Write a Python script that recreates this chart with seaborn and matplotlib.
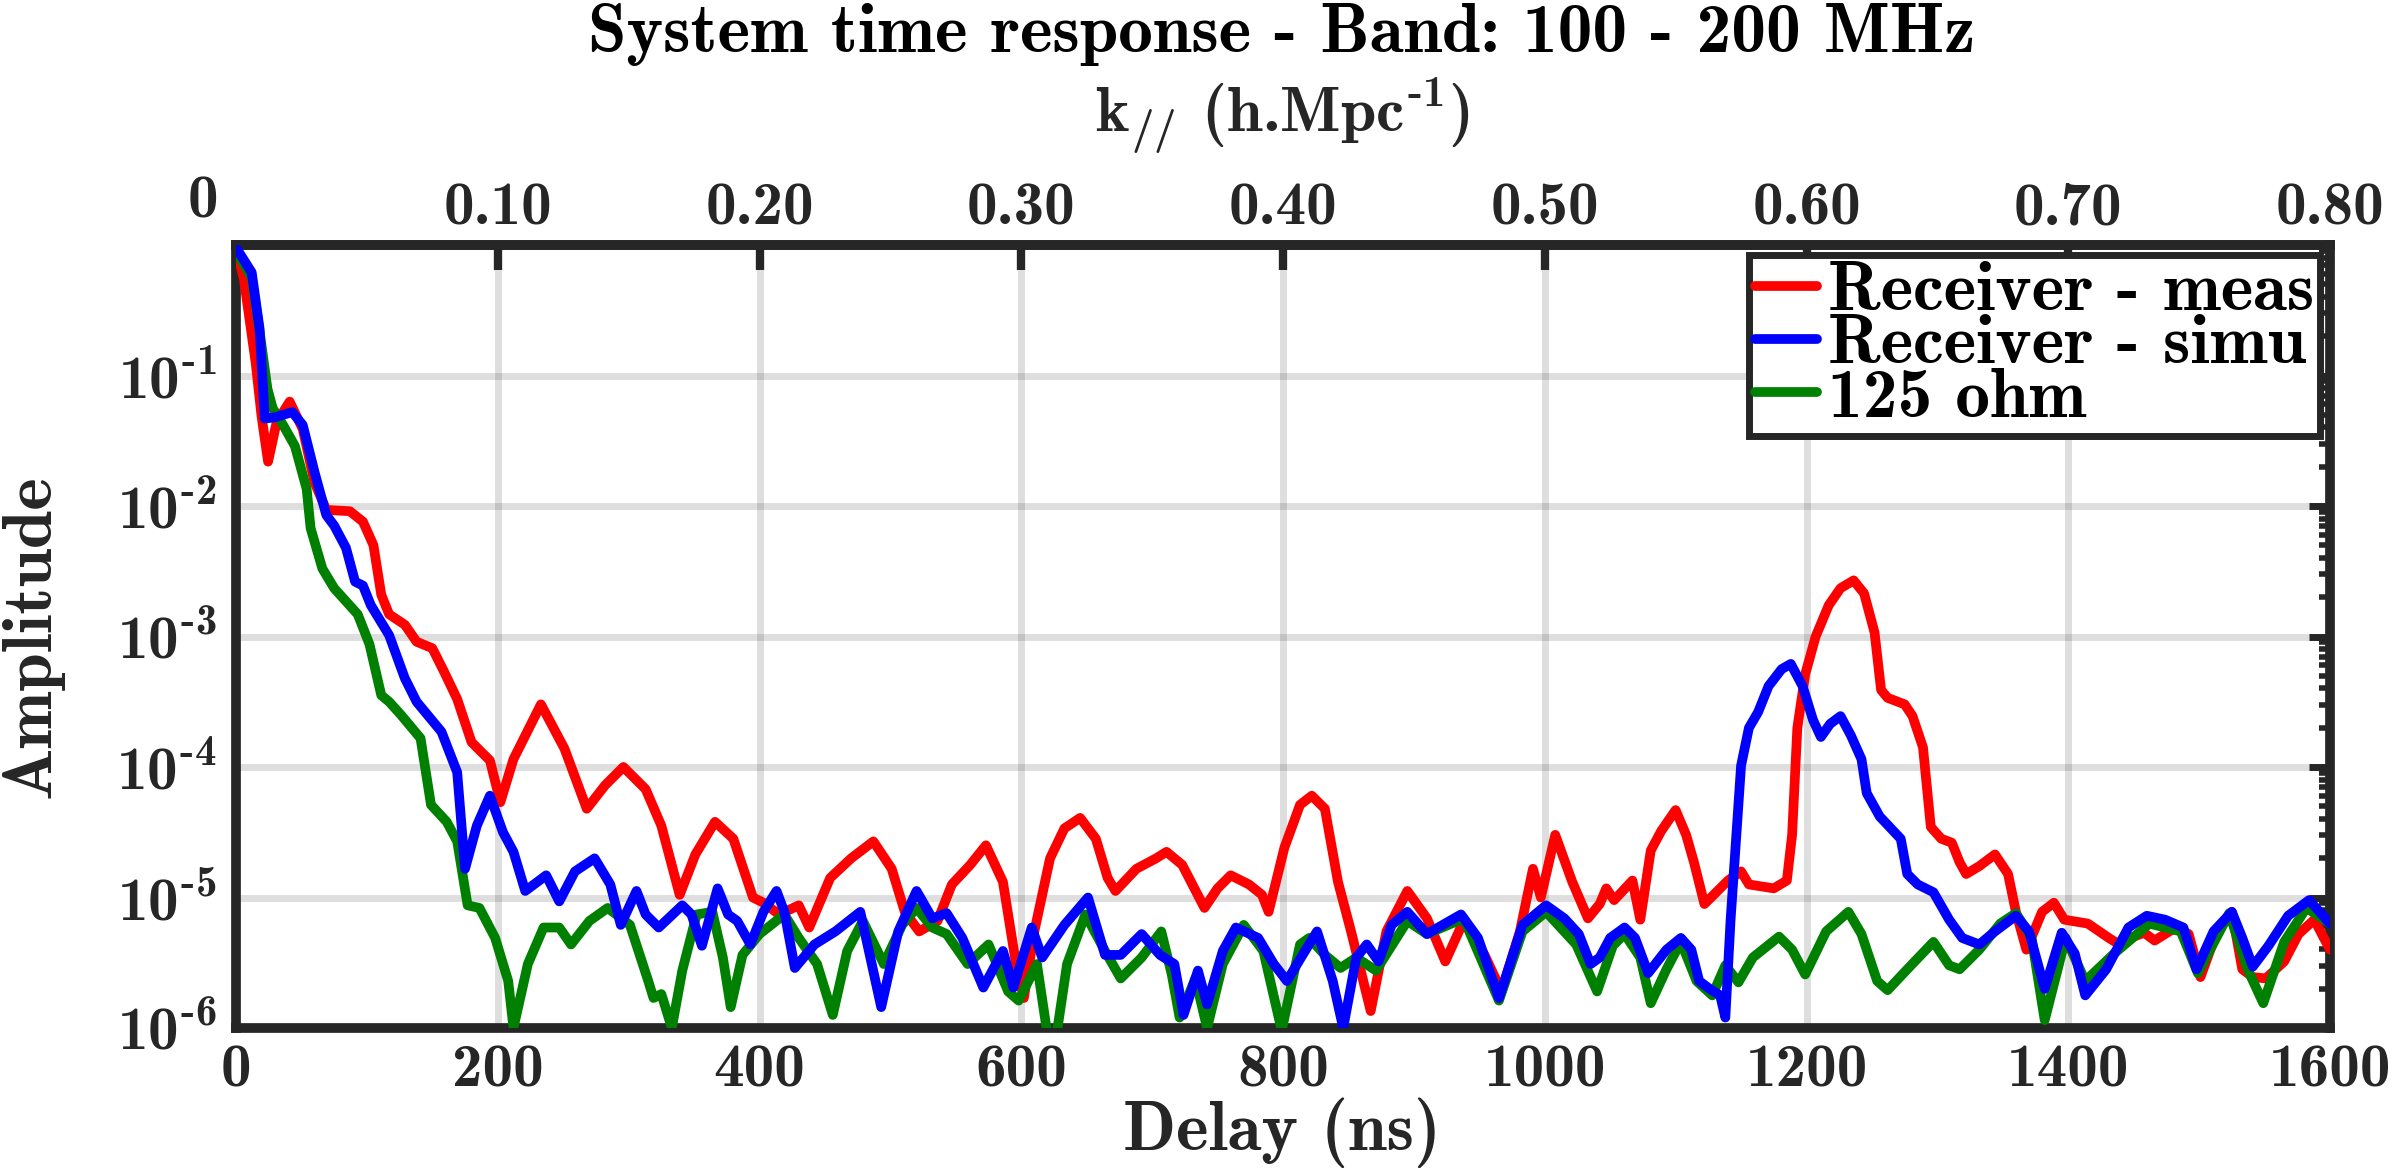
import numpy as np
import matplotlib
matplotlib.use("Agg")
import matplotlib.pyplot as plt
import matplotlib.ticker as mticker
import seaborn as sns

sns.set_theme(style="white")
plt.rcParams['font.family'] = ['cmb10', 'DejaVu Sans']
plt.rcParams['mathtext.fontset'] = 'custom'
plt.rcParams['mathtext.rm'] = 'cmb10'
plt.rcParams['mathtext.it'] = 'cmb10'
plt.rcParams['mathtext.bf'] = 'cmb10'
plt.rcParams['axes.unicode_minus'] = False

DARK = '#262626'

# Données : délai (ns) et log10 de l'amplitude
red_delay = [0, 6, 15, 19.5, 24.5, 31, 41, 51, 60, 69, 87, 97, 105, 111, 117, 129, 138, 150, 159, 169,
             180, 194, 202, 212, 233, 251, 268, 282, 296, 313, 325, 339, 351, 366, 380, 395, 403, 415,
             430, 438, 454, 470, 487, 501, 511, 522, 536, 547, 561, 573, 586, 596, 602, 610, 622, 633,
             645, 657, 666, 672, 688, 703, 711, 723, 740, 750, 760, 774, 784, 789, 801, 813, 822, 832,
             842, 852, 867, 879, 895, 910, 924, 938, 954, 967, 981, 991, 997, 1008, 1021, 1033, 1042,
             1047, 1053, 1067, 1073, 1081, 1089, 1100, 1108, 1114, 1122, 1140, 1150, 1156, 1175, 1185,
             1189, 1193, 1199, 1207, 1217, 1226, 1236, 1244, 1252, 1257, 1262, 1275, 1281, 1289, 1295,
             1303, 1311, 1317, 1322, 1332, 1344, 1354, 1360, 1368, 1380, 1389, 1397, 1415, 1431, 1439,
             1450, 1458, 1466, 1482, 1492, 1501, 1513, 1525, 1533, 1541, 1551, 1565, 1576, 1588, 1600]
red_log10 = [-0.02, -0.26, -0.9, -1.31, -1.66, -1.36, -1.2, -1.41, -1.82, -2.03, -2.04, -2.12, -2.30,
             -2.68, -2.83, -2.91, -3.04, -3.09, -3.27, -3.48, -3.81, -3.95, -4.27, -3.94, -3.52, -3.86,
             -4.32, -4.14, -4.0, -4.17, -4.45, -4.98, -4.67, -4.42, -4.55, -5.0, -5.04, -5.13, -5.06,
             -5.23, -4.85, -4.70, -4.57, -4.78, -5.11, -5.26, -5.18, -4.90, -4.75, -4.60, -4.88, -5.51,
             -5.77, -5.26, -4.70, -4.47, -4.39, -4.55, -4.85, -4.95, -4.78, -4.70, -4.65, -4.75, -5.08,
             -4.93, -4.83, -4.90, -4.98, -5.11, -4.62, -4.29, -4.22, -4.32, -4.88, -5.26, -5.87, -5.26,
             -4.95, -5.16, -5.49, -5.18, -5.44, -5.72, -5.26, -4.78, -5.0, -4.52, -4.88, -5.16, -5.05,
             -4.93, -5.02, -4.87, -5.17, -4.64, -4.49, -4.33, -4.52, -4.73, -5.05, -4.87, -4.80, -4.90,
             -4.93, -4.87, -4.52, -3.70, -3.29, -3.0, -2.76, -2.63, -2.57, -2.67, -2.97, -3.41, -3.47,
             -3.52, -3.61, -3.85, -4.46, -4.55, -4.58, -4.73, -4.82, -4.76, -4.67, -4.82, -5.11, -5.40,
             -5.11, -5.04, -5.17, -5.20, -5.31, -5.36, -5.30, -5.27, -5.33, -5.23, -5.28, -5.61, -5.28,
             -5.11, -5.55, -5.61, -5.62, -5.49, -5.28, -5.17, -5.40]

blue_delay = [0, 12, 18, 22, 30, 43, 51, 60, 69, 75, 84, 91, 97, 103, 117, 129, 138, 157, 169, 175, 184,
              194, 204, 212, 221, 237, 247, 259, 274, 286, 294, 306, 313, 323, 341, 348, 356, 368, 376,
              383, 393, 403, 413, 419, 427, 442, 458, 477, 493, 506, 520, 532, 543, 555, 571, 586, 594,
              608, 616, 633, 651, 664, 676, 692, 706, 717, 724, 735, 742, 754, 764, 781, 793, 803, 815,
              826, 838, 846, 856, 864, 873, 883, 895, 910, 922, 936, 949, 965, 983, 1001, 1015, 1026,
              1035, 1042, 1050, 1061, 1069, 1079, 1093, 1104, 1112, 1118, 1126, 1134, 1138, 1142, 1146,
              1150, 1156, 1163, 1171, 1181, 1188, 1197, 1205, 1211, 1218, 1226, 1234, 1242, 1246, 1256,
              1272, 1277, 1285, 1297, 1309, 1319, 1332, 1344, 1360, 1370, 1382, 1395, 1405, 1413, 1429,
              1446, 1460, 1474, 1488, 1498, 1511, 1525, 1533, 1541, 1553, 1568, 1584, 1600]
blue_log10 = [-0.02, -0.21, -0.64, -1.33, -1.32, -1.28, -1.38, -1.74, -2.07, -2.15, -2.32, -2.58, -2.61,
              -2.76, -2.99, -3.32, -3.50, -3.73, -4.04, -4.78, -4.45, -4.22, -4.50, -4.65, -4.95, -4.83,
              -5.03, -4.80, -4.70, -4.90, -5.21, -4.95, -5.13, -5.23, -5.06, -5.13, -5.37, -4.93, -5.13,
              -5.18, -5.36, -5.11, -4.95, -5.11, -5.54, -5.36, -5.26, -5.11, -5.84, -5.26, -4.95, -5.16,
              -5.12, -5.31, -5.69, -5.41, -5.69, -5.23, -5.46, -5.21, -5.0, -5.44, -5.44, -5.28, -5.44,
              -5.51, -5.90, -5.56, -5.82, -5.41, -5.23, -5.31, -5.51, -5.64, -5.44, -5.26, -5.64, -6.0,
              -5.46, -5.36, -5.49, -5.21, -5.11, -5.28, -5.21, -5.13, -5.31, -5.77, -5.21, -5.06, -5.16,
              -5.28, -5.51, -5.46, -5.31, -5.23, -5.31, -5.58, -5.40, -5.31, -5.40, -5.64, -5.70, -5.75,
              -5.92, -5.17, -4.58, -3.99, -3.70, -3.58, -3.38, -3.25, -3.21, -3.38, -3.64, -3.77, -3.67,
              -3.61, -3.76, -3.94, -4.20, -4.38, -4.55, -4.82, -4.90, -4.96, -5.17, -5.31, -5.36, -5.26,
              -5.14, -5.26, -5.70, -5.27, -5.43, -5.75, -5.55, -5.23, -5.14, -5.17, -5.23, -5.55, -5.26,
              -5.11, -5.31, -5.53, -5.37, -5.14, -5.02, -5.20]

green_delay = [0, 12, 18, 24, 28, 36, 45, 54, 57, 66, 75, 93, 102, 111, 117, 126, 141, 149, 161, 169, 177,
               186, 198, 208, 212, 223, 235, 247, 256, 270, 284, 301, 315, 319, 325, 333, 341, 352, 364,
               372, 378, 387, 400, 419, 430, 444, 456, 467, 479, 495, 509, 520, 532, 543, 559, 575, 590,
               598, 612, 620, 627, 635, 649, 664, 676, 692, 707, 715, 721, 733, 742, 754, 770, 785, 799,
               813, 820, 832, 844, 856, 871, 895, 910, 938, 965, 983, 1001, 1024, 1040, 1052, 1061, 1073,
               1081, 1093, 1104, 1116, 1128, 1138, 1148, 1159, 1179, 1189, 1199, 1215, 1232, 1242, 1254,
               1262, 1277, 1297, 1309, 1317, 1332, 1348, 1360, 1372, 1382, 1398, 1413, 1435, 1462, 1486,
               1499, 1523, 1537, 1549, 1565, 1582, 1600]
green_log10 = [-0.05, -0.25, -0.66, -1.1, -1.25, -1.38, -1.54, -1.87, -2.17, -2.48, -2.63, -2.83, -3.06,
               -3.45, -3.50, -3.60, -3.78, -4.29, -4.42, -4.57, -5.06, -5.08, -5.31, -5.64, -6.0, -5.51,
               -5.23, -5.23, -5.36, -5.18, -5.08, -5.21, -5.64, -5.77, -5.74, -6.0, -5.56, -5.13, -5.11,
               -5.46, -5.84, -5.44, -5.28, -5.13, -5.31, -5.51, -5.90, -5.41, -5.18, -5.51, -5.21, -5.08,
               -5.23, -5.28, -5.51, -5.36, -5.72, -5.79, -5.51, -6.05, -6.05, -5.51, -5.13, -5.41, -5.62,
               -5.46, -5.26, -5.59, -5.92, -5.62, -6.0, -5.51, -5.21, -5.41, -6.02, -5.36, -5.31, -5.44,
               -5.54, -5.46, -5.56, -5.18, -5.28, -5.16, -5.79, -5.26, -5.11, -5.36, -5.72, -5.37, -5.28,
               -5.46, -5.81, -5.55, -5.34, -5.64, -5.75, -5.52, -5.65, -5.46, -5.30, -5.40, -5.59, -5.26,
               -5.11, -5.28, -5.64, -5.71, -5.55, -5.34, -5.52, -5.55, -5.40, -5.20, -5.12, -5.31, -5.94,
               -5.31, -5.64, -5.43, -5.20, -5.26, -5.58, -5.12, -5.55, -5.81, -5.34, -5.08, -5.20]

delay_ticks = [0, 200, 400, 600, 800, 1000, 1200, 1400, 1600]
amp_ticks = [1e-6, 1e-5, 1e-4, 1e-3, 1e-2, 1e-1]
amp_labels = [r'10$^{\text{-}6}$', r'10$^{\text{-}5}$', r'10$^{\text{-}4}$',
              r'10$^{\text{-}3}$', r'10$^{\text{-}2}$', r'10$^{\text{-}1}$']
k_ticks = [0, 0.1, 0.2, 0.3, 0.4, 0.5, 0.6, 0.7, 0.8]
k_labels = ['', '0.10', '0.20', '0.30', '0.40', '0.50', '0.60', '0.70', '0.80']

fig = plt.figure(figsize=(24, 11.7), dpi=100)
ax = fig.add_axes([236 / 2400, 1 - 1028 / 1170, (2330 - 236) / 2400, (1028 - 245) / 1170])

line_kw = dict(lw=7, sort=False, estimator=None, solid_joinstyle='round', solid_capstyle='round')
sns.lineplot(x=red_delay, y=10 ** np.array(red_log10), ax=ax, color='#ff0000',
             label='Receiver - meas', zorder=3, **line_kw)
sns.lineplot(x=green_delay, y=10 ** np.array(green_log10), ax=ax, color='#008000',
             label='125 ohm', zorder=4, **line_kw)
sns.lineplot(x=blue_delay, y=10 ** np.array(blue_log10), ax=ax, color='#0000ff',
             label='Receiver - simu', zorder=5, **line_kw)

ax.set_yscale('log')
ax.set_xlim(0, 1600)
ax.set_ylim(1e-6, 1)
ax.set_xticks(delay_ticks)
ax.set_yticks(amp_ticks, labels=amp_labels)
ax.yaxis.set_minor_locator(mticker.LogLocator(base=10, subs=np.arange(2, 10)))
ax.yaxis.set_minor_formatter(mticker.NullFormatter())
ax.set_xlabel('')
ax.set_ylabel('')

ax.grid(True, which='major', color=DARK, alpha=0.15, lw=5)
ax.set_axisbelow(True)
for s in ax.spines.values():
    s.set_linewidth(7)
    s.set_color(DARK)
    s.set_visible(True)

ax.tick_params(axis='x', which='major', direction='in', length=18, width=6, colors=DARK,
               labelsize=44, pad=12, top=False)
ax.tick_params(axis='y', which='major', direction='in', length=15, width=5, colors=DARK,
               labelsize=44, pad=14, right=True)
ax.tick_params(axis='y', which='minor', direction='in', length=8, width=4, colors=DARK, right=True)

secax = ax.secondary_xaxis('top', functions=(lambda d: d * 5e-4, lambda k: k / 5e-4))
secax.set_xticks(k_ticks, labels=k_labels)
secax.tick_params(direction='in', length=18, width=6, colors=DARK, labelsize=44, pad=6)
secax.spines['top'].set_linewidth(7)
secax.spines['top'].set_color(DARK)
fig.text(203 / 2400, 1 - 218 / 1170, '0', ha='center', va='baseline', fontsize=44, color=DARK)

handles, labels = ax.get_legend_handles_labels()
order = [labels.index(l) for l in ['Receiver - meas', 'Receiver - simu', '125 ohm']]
leg = ax.legend([handles[i] for i in order], [labels[i] for i in order], loc='upper right',
                bbox_to_anchor=(1, 1), borderaxespad=0.15, prop={'family': 'cmb10', 'size': 50},
                frameon=True, fancybox=False, framealpha=1, edgecolor=DARK, handlelength=0.9,
                handletextpad=0.15, labelspacing=-0.14, borderpad=0.08)
leg.get_frame().set_linewidth(5)
leg.set_zorder(10)
for t in leg.get_texts():
    t.set_color('black')

fig.text(1282 / 2400, 1 - 52 / 1170, 'System time response - Band: 100 - 200 MHz',
         ha='center', va='baseline', fontsize=50, color='black')
fig.text(1282 / 2400, 1 - 132 / 1170, r'k$_{//}$ (h.Mpc$^{\text{-}1}$)',
         ha='center', va='baseline', fontsize=46, color=DARK)
fig.text(1282 / 2400, 1 - 1150 / 1170, 'Delay (ns)', ha='center', va='baseline',
         fontsize=50, color=DARK)
fig.text(32 / 2400, 1 - 636 / 1170, 'Amplitude', rotation=90, ha='center', va='center',
         fontsize=50, color=DARK)

fig.savefig('out.png', dpi=100, facecolor='white')
